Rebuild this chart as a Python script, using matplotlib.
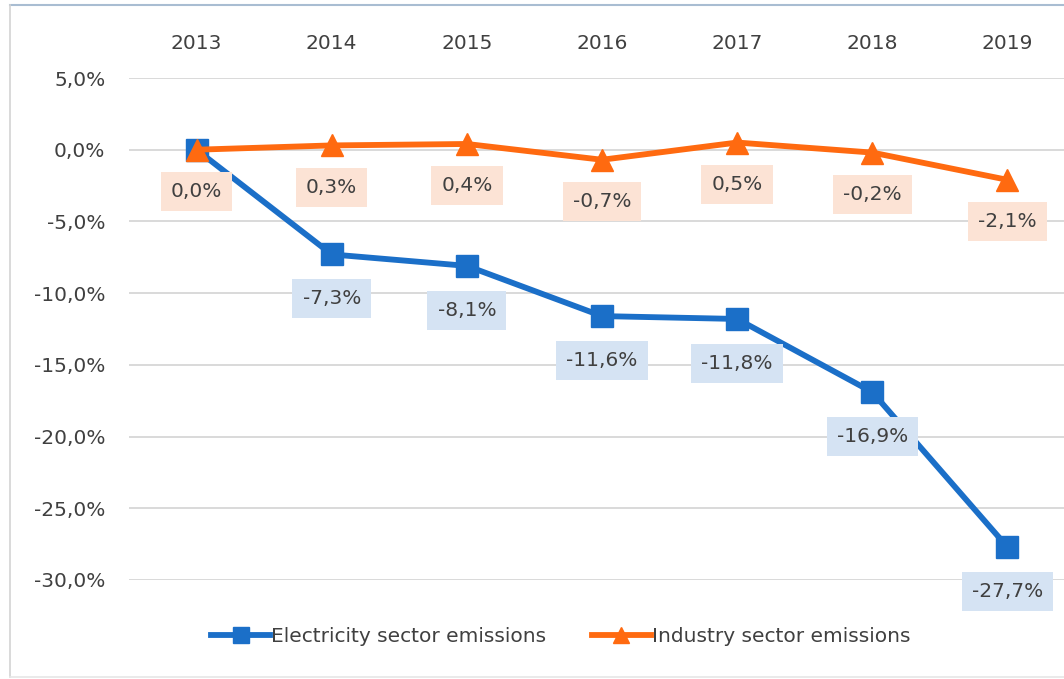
import matplotlib.pyplot as plt
from matplotlib.lines import Line2D

# data
years = ['2013', '2014', '2015', '2016', '2017', '2018', '2019']
electricity = [0.0, -7.3, -8.1, -11.6, -11.8, -16.9, -27.7]
industry = [0.0, 0.3, 0.4, -0.7, 0.5, -0.2, -2.1]
yticks = [5, 0, -5, -10, -15, -20, -25, -30]

blue = '#1B6FC8'
orange = '#FF6A10'
text_col = '#404040'
fs = 14.5

plt.rcParams['font.family'] = 'DejaVu Sans'

fig = plt.figure(figsize=(10.64, 6.79), dpi=100)
ax = fig.add_axes([129 / 1064, 1 - 580 / 679, 946 / 1064, 502 / 679])

x = list(range(len(years)))

#lines
ax.plot(x, electricity, color=blue, lw=4.2, marker='s', markersize=16,
        label='Electricity sector emissions', clip_on=False, zorder=3)
ax.plot(x, industry, color=orange, lw=4.2, marker='^', markersize=16,
        label='Industry sector emissions', clip_on=False, zorder=4)

def fmt(v):
    return f'{v:.1f}'.replace('.', ',') + '%'

#data labels (the 2013 electricity label sits hidden under the industry one)
for xi, v in zip(x[1:], electricity[1:]):
    ax.annotate(fmt(v), (xi, v), xytext=(0, -32), textcoords='offset points',
                ha='center', va='center', fontsize=fs, color=text_col, zorder=5,
                bbox=dict(boxstyle='square,pad=0.5', fc='#D5E3F3', ec='none'))
for xi, v in zip(x, industry):
    ax.annotate(fmt(v), (xi, v), xytext=(0, -30), textcoords='offset points',
                ha='center', va='center', fontsize=fs, color=text_col, zorder=5,
                bbox=dict(boxstyle='square,pad=0.5', fc='#FCE3D5', ec='none'))

ax.set_xlim(-0.5, 6.5)
ax.set_ylim(-30, 5)
ax.set_xticks(x)
ax.set_xticklabels(years)
ax.xaxis.set_ticks_position('top')
ax.tick_params(axis='x', length=0, pad=18, labelsize=fs, labelcolor=text_col)
ax.set_yticks(yticks)
ax.set_yticklabels([fmt(t) for t in yticks])
ax.tick_params(axis='y', length=0, pad=17, labelsize=fs, labelcolor=text_col)
ax.grid(axis='y', color='#D9D9D9', lw=1.4)
ax.set_axisbelow(True)
for s in ax.spines.values():
    s.set_visible(False)

fig.legend(loc='center', bbox_to_anchor=(0.527, 1 - 637 / 679), ncol=2,
           frameon=False, fontsize=fs, handlelength=2.9, handletextpad=0.05,
           columnspacing=2.3, labelcolor=text_col, markerscale=0.75)

#frame around the chart
fig.add_artist(Line2D([10 / 1064, 1], [1 - 5 / 679, 1 - 5 / 679], color='#A9BDD2', lw=1.5))
fig.add_artist(Line2D([10 / 1064, 10 / 1064], [1 - 5 / 679, 2 / 679], color='#D3D3D3', lw=1.2))
fig.add_artist(Line2D([10 / 1064, 1], [2 / 679, 2 / 679], color='#E6E6E6', lw=1.2))

plt.savefig('out.png', dpi=100)
